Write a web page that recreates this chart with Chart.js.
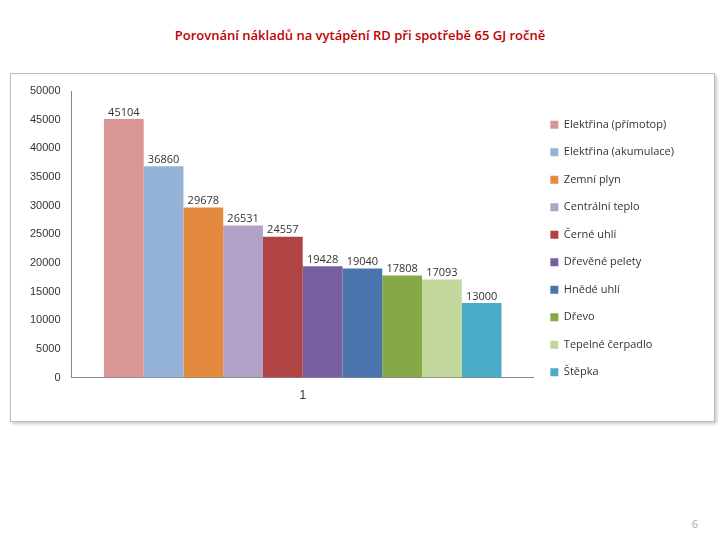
<!DOCTYPE html>
<html><head><meta charset="utf-8">
<script src="https://cdn.jsdelivr.net/npm/chart.js@4"></script>
<style>
body{margin:0;width:720px;height:540px;background:#fff;position:relative;font-family:"Open Sans",sans-serif}
#title{position:absolute;top:26px;left:0;width:720px;text-align:center;color:#c00000;font-size:13px;font-weight:600}
#box{position:absolute;left:10px;top:73px;width:703px;height:347px;border:1px solid #bbb;box-shadow:2px 2px 3px #ccc}
#pg{position:absolute;right:22px;top:516px;color:#aaa;font-size:11px}
</style></head><body>
<div id="title">Porovnání nákladů na vytápění RD při spotřebě 65 GJ ročně</div>
<div id="box"><canvas id="c" width="703" height="347"></canvas></div>
<div id="pg">6</div>
<script>
const categories=["1"];
const seriesNames=["Elektřina (přímotop)","Elektřina (akumulace)","Zemní plyn","Centrální teplo","Černé uhlí","Dřevěné pelety","Hnědé uhlí","Dřevo","Tepelné čerpadlo","Štěpka"];
const seriesValues=[45104,36860,29678,26531,24557,19428,19040,17808,17093,13000];
const colors=["#d99694","#95b3d7","#e38a3e","#b3a2c7","#b04444","#7a5fa0","#4a74ac","#86a947","#c3d69b","#4aacc6"];
const yTicks=[0,5000,10000,15000,20000,25000,30000,35000,40000,45000,50000];
const labelPlugin={id:'lbl',afterDatasetsDraw(ch){const c=ch.ctx;c.save();c.font='11px "Open Sans"';c.fillStyle='#333';c.textAlign='center';c.textBaseline='bottom';
ch.data.datasets.forEach((d,i)=>{const el=ch.getDatasetMeta(i).data[0];c.fillText(String(d.data[0]),el.x,el.y-1);});c.restore();}};
new Chart(document.getElementById('c'),{type:'bar',
data:{labels:categories,datasets:seriesNames.map((n,i)=>({label:n,data:[seriesValues[i]],backgroundColor:colors[i]}))},
options:{responsive:false,animation:false,
layout:{padding:{top:17,left:16,right:30,bottom:15}},
plugins:{tooltip:{enabled:false},legend:{position:'right',align:'center',labels:{boxWidth:8,boxHeight:8,padding:16.5,color:'#333',font:{size:11,family:'"Open Sans"'}}}},
datasets:{bar:{categoryPercentage:0.86,barPercentage:1}},
scales:{x:{grid:{display:false},border:{color:'#888'},ticks:{color:'#333',font:{size:12}}},
y:{min:0,max:50000,afterBuildTicks:a=>{a.ticks=yTicks.map(v=>({value:v}));},grid:{display:false},border:{color:'#888'},ticks:{color:'#333',font:{size:11},callback:v=>String(v)}}}},
plugins:[labelPlugin]});
</script></body></html>
